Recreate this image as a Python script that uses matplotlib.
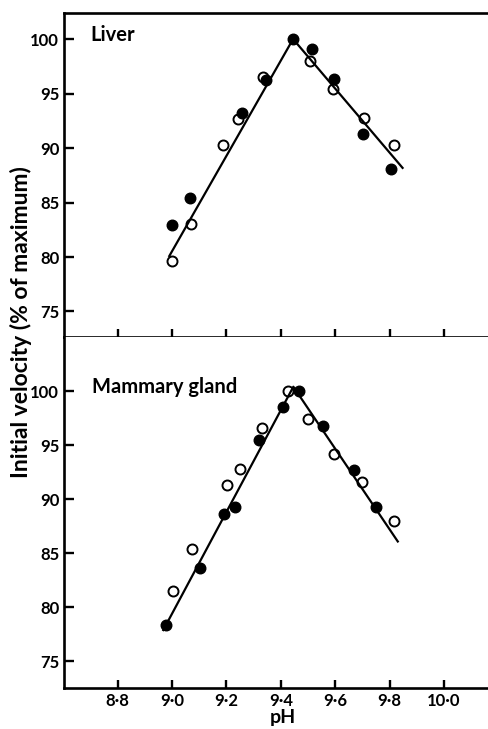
import matplotlib
matplotlib.use("Agg")
import matplotlib.pyplot as plt
from matplotlib.ticker import FixedLocator, FixedFormatter
from matplotlib.font_manager import FontProperties

plt.rcParams['font.family'] = ['Lato', 'DejaVu Sans']

# pH tick positions and their printed labels (middle-dot decimal style)
ph_ticks = [8.8, 9.0, 9.2, 9.4, 9.6, 9.8, 10.0]
ph_tick_labels = ['8·8', '9·0', '9·2', '9·4', '9·6', '9·8', '10·0']
vel_ticks = [75, 80, 85, 90, 95, 100]
vel_tick_labels = ['75', '80', '85', '90', '95', '100']

# Liver: two preparations (filled / open symbols) and the fitted broken line
liver_filled_ph = [9.00, 9.066, 9.256, 9.346, 9.446, 9.516, 9.596, 9.703, 9.805]
liver_filled_val = [82.9, 85.4, 93.2, 96.2, 100.0, 99.1, 96.3, 91.3, 88.1]
liver_open_ph = [9.00, 9.069, 9.186, 9.244, 9.336, 9.507, 9.593, 9.707, 9.817]
liver_open_val = [79.6, 83.0, 90.3, 92.7, 96.5, 98.0, 95.4, 92.8, 90.3]
liver_fit_ph = [8.988, 9.445, 9.85]
liver_fit_val = [80.0, 100.0, 88.1]

# Mammary gland
mam_filled_ph = [8.978, 9.103, 9.191, 9.232, 9.321, 9.407, 9.468, 9.556, 9.669, 9.748]
mam_filled_val = [78.4, 83.6, 88.6, 89.3, 95.5, 98.5, 100.0, 96.8, 92.7, 89.3]
mam_open_ph = [9.002, 9.072, 9.201, 9.25, 9.33, 9.428, 9.499, 9.596, 9.699, 9.816]
mam_open_val = [81.5, 85.35, 91.3, 92.75, 96.6, 100.0, 97.4, 94.2, 91.6, 88.0]
mam_fit_ph = [8.966, 9.446, 9.832]
mam_fit_val = [77.8, 100.4, 86.0]

W, H = 489, 729
fig = plt.figure(figsize=(W / 100, H / 100), dpi=100)

left_px, right_px = 64, 489
ax1 = fig.add_axes([left_px / W, 1 - 337 / H, (right_px - left_px) / W, (337 - 13) / H])
ax2 = fig.add_axes([left_px / W, 1 - 688 / H, (right_px - left_px) / W, (688 - 337) / H])

tick_fp = FontProperties(family=['Lato', 'DejaVu Sans'], weight='bold', size=12)


def style_axis(ax, ylim, show_top):
    ax.set_xlim(8.603, 10.165)
    ax.set_ylim(*ylim)
    ax.spines['right'].set_visible(False)
    ax.spines['top'].set_visible(show_top)
    for s in ('left', 'bottom', 'top'):
        ax.spines[s].set_linewidth(1.9)
    ax.xaxis.set_major_locator(FixedLocator(ph_ticks))
    ax.xaxis.set_major_formatter(FixedFormatter(ph_tick_labels))
    ax.yaxis.set_major_locator(FixedLocator(vel_ticks))
    ax.yaxis.set_major_formatter(FixedFormatter(vel_tick_labels))
    ax.tick_params(axis='x', direction='in', length=6, width=1.7, pad=3.5)
    ax.tick_params(axis='y', direction='in', length=7, width=1.7, pad=3.5)
    for lab in ax.get_xticklabels() + ax.get_yticklabels():
        lab.set_fontproperties(tick_fp)
    ax.set_facecolor('white')


def draw_panel(ax, fit_x, fit_y, open_x, open_y, filled_x, filled_y):
    ax.plot(fit_x, fit_y, color='black', lw=1.6, zorder=2, solid_capstyle='butt')
    ax.plot(open_x, open_y, 'o', ms=7.2, mfc='none', mec='black', mew=1.4,
            zorder=3, clip_on=False)
    ax.plot(filled_x, filled_y, 'o', ms=7.6, mfc='black', mec='black',
            zorder=4, clip_on=False)


draw_panel(ax1, liver_fit_ph, liver_fit_val, liver_open_ph, liver_open_val,
           liver_filled_ph, liver_filled_val)
draw_panel(ax2, mam_fit_ph, mam_fit_val, mam_open_ph, mam_open_val,
           mam_filled_ph, mam_filled_val)

style_axis(ax1, (72.66, 102.39), True)
style_axis(ax2, (72.53, 105.0), False)

label_font = dict(family=['Lato', 'DejaVu Sans'], weight='bold')
fig.text(90 / W, 1 - 40.7 / H, 'Liver', fontsize=14.5, va='baseline', ha='left', **label_font)
fig.text(92 / W, 1 - 392.7 / H, 'Mammary gland', fontsize=14.5, va='baseline', ha='left', **label_font)
fig.text(21 / W, 1 - 322 / H, 'Initial velocity (% of maximum)', rotation=90,
         fontsize=16.5, va='center', ha='center', **label_font)
fig.text(283 / W, 1 - 723 / H, 'pH', fontsize=14, va='baseline', ha='center', **label_font)

fig.savefig('out.png', dpi=100, facecolor='white')
